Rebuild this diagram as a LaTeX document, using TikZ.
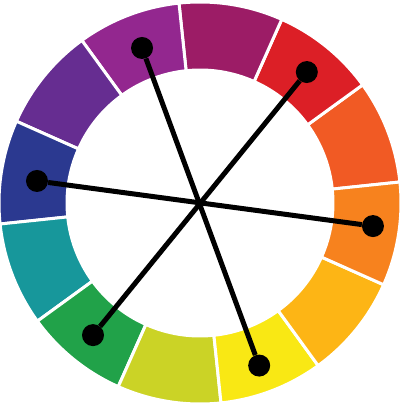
\documentclass[tikz,border=0pt]{standalone}
\usepackage{tikz}
\usetikzlibrary{shapes,positioning,calc}
\definecolor{orangered}{HTML}{F15A24}
\definecolor{wred}{HTML}{DC1F26}
\definecolor{wmagenta}{HTML}{9C1C66}
\definecolor{wpurple}{HTML}{93278F}
\definecolor{wviolet}{HTML}{662D91}
\definecolor{wblue}{HTML}{2B3990}
\definecolor{wteal}{HTML}{17979B}
\definecolor{wgreen}{HTML}{21A249}
\definecolor{wlime}{HTML}{CBD326}
\definecolor{wyellow}{HTML}{F9E814}
\definecolor{wamber}{HTML}{FDB515}
\definecolor{worange}{HTML}{F7821E}
\newcommand{\ro}{201pt}
\newcommand{\ri}{133pt}
\newcommand{\seg}[3]{\filldraw[seg, fill=#3] (#1:\ro) arc[start angle=#1, end angle=#2, radius=\ro]
    -- (#2:\ri) arc[start angle=#2, end angle=#1, radius=\ri] -- cycle;}

\begin{document}
\begin{tikzpicture}
        \tikzset{seg/.style={draw=white, line width=3pt},
            dot/.style={circle, fill=black, inner sep=0pt, minimum size=22pt}}
        \useasboundingbox (-200pt,-201pt) rectangle (200pt,203pt);
        \begin{scope}
            \seg{6}{36}{orangered}
            \seg{36}{66}{wred}
            \seg{66}{96}{wmagenta}
            \seg{96}{126}{wpurple}
            \seg{126}{156}{wviolet}
            \seg{156}{186}{wblue}
            \seg{186}{216}{wteal}
            \seg{216}{246}{wgreen}
            \seg{246}{276}{wlime}
            \seg{276}{306}{wyellow}
            \seg{306}{336}{wamber}
            \seg{336}{366}{worange}
        \end{scope}

        \begin{scope}
            \node[dot] (purple) at (110.5:165.5pt) {};
            \node[dot] (red) at (50.8:169pt) {};
            \node[dot] (orange) at (-7.6:174.5pt) {};
            \node[dot] (yellow) at (-70:173pt) {};
            \node[dot] (green) at (231:170pt) {};
            \node[dot] (blue) at (172.3:164.5pt) {};
        \end{scope}

        \begin{scope}[line width=5pt]
            \draw (purple) -- (yellow);
            \draw (red) -- (green);
            \draw (blue) -- (orange);
        \end{scope}

\end{tikzpicture}
\end{document}
